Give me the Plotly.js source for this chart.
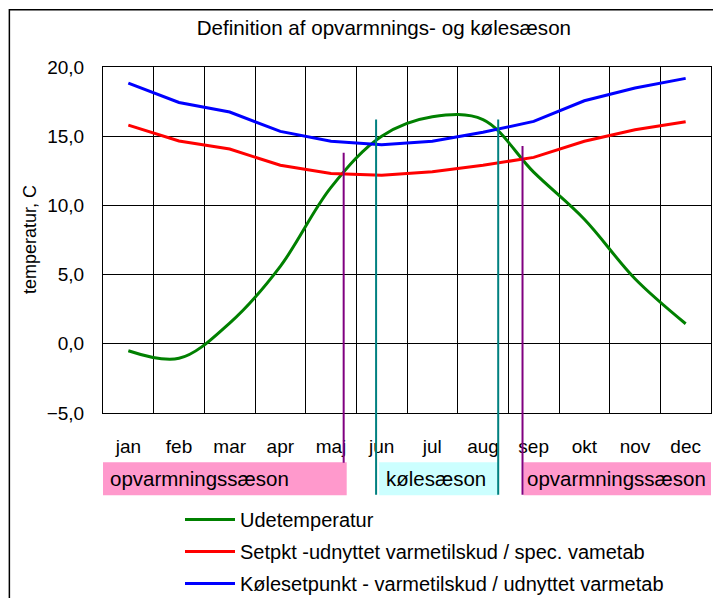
<!DOCTYPE html>
<html><head><meta charset="utf-8">
<script src="https://cdn.plot.ly/plotly-3.0.1.min.js"></script>
<style>html,body{margin:0;padding:0;background:#fff}</style>
</head><body><div id="chart" style="width:713px;height:598px"></div>
<script>
// ---- data ----
const months = ['jan','feb','mar','apr','maj','jun','jul','aug','sep','okt','nov','dec'];
const monthPos = [1,2,3,4,5,6,7,8,9,10,11,12];
const udetemperatur = [-0.5, -1.05, 1.5, 5.6, 11.3, 15.0, 16.4, 16.2, 12.4, 9.0, 4.7, 1.45];
const setpunkt = [15.8, 14.65, 14.07, 12.9, 12.3, 12.17, 12.43, 12.9, 13.47, 14.63, 15.47, 16.05];
const koelesetpunkt = [18.84, 17.44, 16.75, 15.35, 14.63, 14.39, 14.63, 15.28, 16.07, 17.56, 18.48, 19.18];
const seriesNames = ['Udetemperatur','Setpkt -udnyttet varmetilskud / spec. vametab','Kølesetpunkt - varmetilskud / udnyttet varmetab'];

// season boundaries (month position) and their line extents (temperature units)
const seasonLineX = [5.25, 5.89, 8.30, 8.78];
const seasonLineTop = [13.8, 16.2, 16.2, 14.3];
const seasonLineBottom = [-8.6, -10.9, -10.9, -10.9];
const seasonLineColor = ['#800080','#008080','#008080','#800080'];

const seasonLabels = ['opvarmningssæson','kølesæson','opvarmningssæson'];
const seasonStart = [0.5, 5.95, 8.80];
const seasonEnd = [5.31, 8.30, 12.6];
const seasonFill = ['#FF99CC','#CCFFFF','#FF99CC'];
const seasonBoxTop = -8.55, seasonBoxBottom = -10.95;

const yRange = [-5, 20];
const yTicks = [-5, 0, 5, 10, 15, 20];

// ---- build ----
const toPaper = v => (v - yRange[0]) / (yRange[1] - yRange[0]);
const FONT = 'Liberation Sans, Arial, sans-serif';
const labelShift = [5, 5, 1];

const traces = [
  {x: monthPos, y: udetemperatur, name: seriesNames[0], mode: 'lines',
   line: {color: '#008000', width: 3, shape: 'spline', smoothing: 1}, legendgroup: 'a'},
  {x: monthPos, y: setpunkt, name: seriesNames[1], mode: 'lines',
   line: {color: '#FF0000', width: 3}, legendgroup: 'b'},
  {x: monthPos, y: koelesetpunkt, name: seriesNames[2], mode: 'lines',
   line: {color: '#0000FF', width: 3}, legendgroup: 'c'}
];

const shapes = [];
const annotations = [];
// outer chart border
shapes.push({type: 'rect', xref: 'paper', yref: 'paper', x0: -0.154, x1: 1.05, y0: 1.1656, y1: -0.6,
  line: {color: '#000', width: 1.5}, fillcolor: 'rgba(0,0,0,0)', layer: 'below'});
seasonLabels.forEach((lab, i) => {
  shapes.push({type: 'rect', xref: 'x', yref: 'paper', x0: seasonStart[i], x1: seasonEnd[i],
    y0: toPaper(seasonBoxBottom), y1: toPaper(seasonBoxTop), fillcolor: seasonFill[i],
    line: {width: 0}, layer: 'above'});
  annotations.push({xref: 'x', yref: 'paper', x: seasonStart[i], y: toPaper((seasonBoxTop + seasonBoxBottom) / 2),
    xanchor: 'left', yanchor: 'middle', xshift: labelShift[i], text: lab, showarrow: false,
    font: {family: FONT, size: 20.5, color: '#000'}});
});
seasonLineX.forEach((x, i) => {
  shapes.push({type: 'line', xref: 'x', yref: 'paper', x0: x, x1: x,
    y0: toPaper(seasonLineBottom[i]), y1: toPaper(seasonLineTop[i]),
    line: {color: seasonLineColor[i], width: 2}, layer: 'above'});
});
// y-axis title
annotations.push({xref: 'paper', yref: 'paper', x: (30 - 103) / 608, y: 0.5, xanchor: 'center', yanchor: 'middle',
  textangle: -90, text: 'temperatur, C', showarrow: false, font: {family: FONT, size: 18, color: '#000'}});

const boundaries = monthPos.map(m => m - 0.5).concat([monthPos[monthPos.length - 1] + 0.5]);

const layout = {
  width: 713, height: 598,
  paper_bgcolor: '#fff', plot_bgcolor: '#fff',
  separators: ',.',
  margin: {l: 103, r: 2, t: 67, b: 185, pad: 0, autoexpand: false},
  font: {family: FONT, size: 20, color: '#000'},
  title: {text: 'Definition af opvarmnings- og kølesæson', font: {family: FONT, size: 20.6, color: '#000'},
    xref: 'paper', x: 0.462, xanchor: 'center', y: 1 - 28 / 598, yanchor: 'middle'},
  xaxis: {range: [0.5, 12.5], tickmode: 'array', tickvals: monthPos, ticktext: months,
    showgrid: false, zeroline: false, showline: true, mirror: true, linecolor: '#000', linewidth: 1,
    ticks: '', ticklabelstandoff: 16, tickfont: {family: FONT, size: 19, color: '#000'},
    minor: {tickmode: 'array', tickvals: boundaries, showgrid: true, gridcolor: '#000', gridwidth: 1, ticks: ''}},
  yaxis: {range: yRange, tickmode: 'array', tickvals: yTicks, tickformat: '.1f',
    showgrid: true, gridcolor: '#000', gridwidth: 1, zeroline: false,
    showline: true, mirror: true, linecolor: '#000', linewidth: 1,
    ticks: '', ticklabelstandoff: 14, tickfont: {family: FONT, size: 19, color: '#000'}},
  showlegend: true,
  legend: {xref: 'container', yref: 'container', x: 180 / 713, y: 1 - 500 / 598, xanchor: 'left', yanchor: 'top',
    traceorder: 'grouped', tracegroupgap: 3, font: {family: FONT, size: 20, color: '#000'},
    bgcolor: 'rgba(0,0,0,0)', borderwidth: 0, itemwidth: 50},
  shapes: shapes,
  annotations: annotations
};

Plotly.newPlot('chart', traces, layout, {staticPlot: true, displayModeBar: false});
</script>
</body></html>
